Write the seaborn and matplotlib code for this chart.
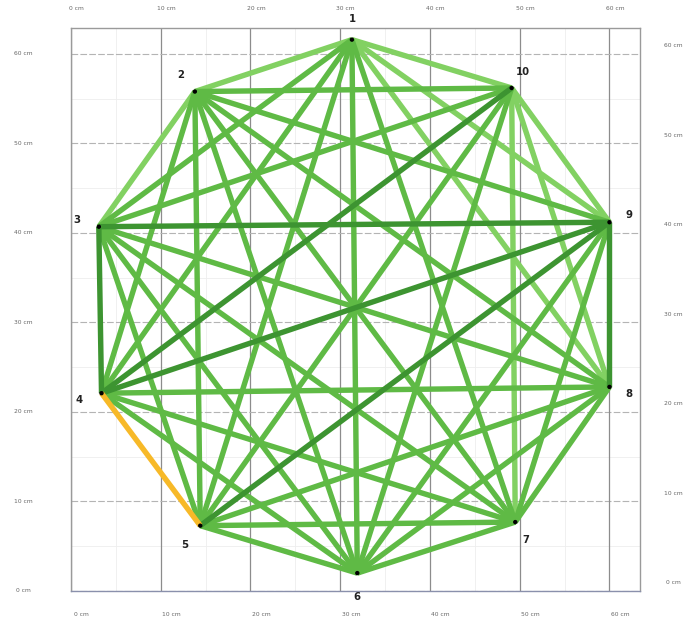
import numpy as np
import pandas as pd
import matplotlib
matplotlib.use("Agg")
import matplotlib.pyplot as plt
import matplotlib.transforms as mtrans
import seaborn as sns

# ---- data ----
node_ids = ["1", "2", "3", "4", "5", "6", "7", "8", "9", "10"]
node_x = [31.3, 13.8, 3.1, 3.4, 14.4, 31.9, 49.5, 60.0, 60.0, 49.1]
node_y = [61.6, 55.8, 40.7, 22.1, 7.3, 2.0, 7.7, 22.8, 41.2, 56.2]

dark_edges = [("3", "4"), ("3", "9"), ("4", "9"), ("5", "9"), ("8", "9"), ("4", "10")]
light_edges = [("1", "2"), ("1", "10"), ("9", "10"), ("8", "10"), ("2", "3"),
               ("7", "10"), ("1", "9"), ("1", "8")]
orange_edges = [("4", "5")]

tick_values = [0, 10, 20, 30, 40, 50, 60]
tick_labels = ["0 cm", "10 cm", "20 cm", "30 cm", "40 cm", "50 cm", "60 cm"]

# ---- build edge table ----
pos = {n: (x, y) for n, x, y in zip(node_ids, node_x, node_y)}
rows = []
eid = 0
def kind_of(a, b):
    for lst, k in ((orange_edges, "orange"), (dark_edges, "dark"), (light_edges, "light")):
        if (a, b) in lst or (b, a) in lst:
            return k
    return "mid"
for i in range(len(node_ids)):
    for j in range(i + 1, len(node_ids)):
        a, b = node_ids[i], node_ids[j]
        k = kind_of(a, b)
        for n in (a, b):
            rows.append({"edge": eid, "x": pos[n][0], "y": pos[n][1], "kind": k})
        eid += 1
edges = pd.DataFrame(rows)
nodes = pd.DataFrame({"id": node_ids, "x": node_x, "y": node_y})

palette = {"light": "#82d162", "mid": "#5fba45", "dark": "#3d9431", "orange": "#f7b928"}
order = ["light", "mid", "dark", "orange"]

sns.set_theme(style="white")
plt.rcParams["font.family"] = ["DejaVu Sans"]

W, H = 683, 627
fig = plt.figure(figsize=(W / 100, H / 100), dpi=100)
ax = fig.add_axes([71 / W, (H - 591) / H, (640 - 71) / W, (591 - 28) / H])
ax.set_xlim(0, 63.4)
ax.set_ylim(0, 62.9)

# grid
for v in np.arange(5, 63, 10):
    ax.axvline(v, color="#eeeeee", lw=0.6, zorder=0)
    ax.axhline(v, color="#eeeeee", lw=0.6, zorder=0)
for v in tick_values:
    ax.axvline(v, color="#8c8c8c", lw=0.9, zorder=0.5)
    ax.axhline(v, color="#b4b4b4", lw=0.8, ls=(0, (6, 2)), zorder=0.5)

# edges
for k in order:
    sub = edges[edges["kind"] == k]
    sns.lineplot(data=sub, x="x", y="y", units="edge", estimator=None, sort=False,
                 color=palette[k], lw=3.9, ax=ax, legend=False, zorder=2,
                 solid_capstyle="butt")

# vertices
sns.scatterplot(data=nodes, x="x", y="y", color="black", s=10, ax=ax,
                zorder=5, edgecolor="none", legend=False)

label_off = {"1": (0, 21), "2": (-14, 17), "3": (-22, 7), "4": (-22, -7),
             "5": (-15, -19), "6": (0, -24), "7": (11, -18), "8": (19, -7),
             "9": (20, 7), "10": (11, 16)}
for n, x, y in zip(node_ids, node_x, node_y):
    dx, dy = label_off[n]
    ax.annotate(n, (x, y), xytext=(dx * 0.72, dy * 0.72), textcoords="offset points",
                ha="center", va="center", fontsize=7.3, fontweight="bold",
                color="#222222", zorder=6)

ax.set_xlabel("")
ax.set_ylabel("")
ax.set_xticks([])
ax.set_yticks([])
for s in ax.spines.values():
    s.set_color("#9a9a9a")
    s.set_linewidth(1.0)
ax.spines["bottom"].set_color("#8a90ac")

# tick labels as text around the frame
tx = mtrans.blended_transform_factory(ax.transData, fig.transFigure)
ty = mtrans.blended_transform_factory(fig.transFigure, ax.transData)
for v, t in zip(tick_values, tick_labels):
    fig.text(v + 0.6, (H - 8) / H, t, transform=tx, ha="center", va="center",
             fontsize=4.3, color="#666666")
    fig.text(v + 1.2, (H - 615) / H, t, transform=tx, ha="center", va="center",
             fontsize=4.3, color="#666666")
    fig.text(23 / W, v, t, transform=ty, ha="center", va="center",
             fontsize=4.3, color="#666666")
    fig.text(673 / W, v + 0.9, t, transform=ty, ha="center", va="center",
             fontsize=4.3, color="#666666")

fig.savefig("out.png", dpi=100)
